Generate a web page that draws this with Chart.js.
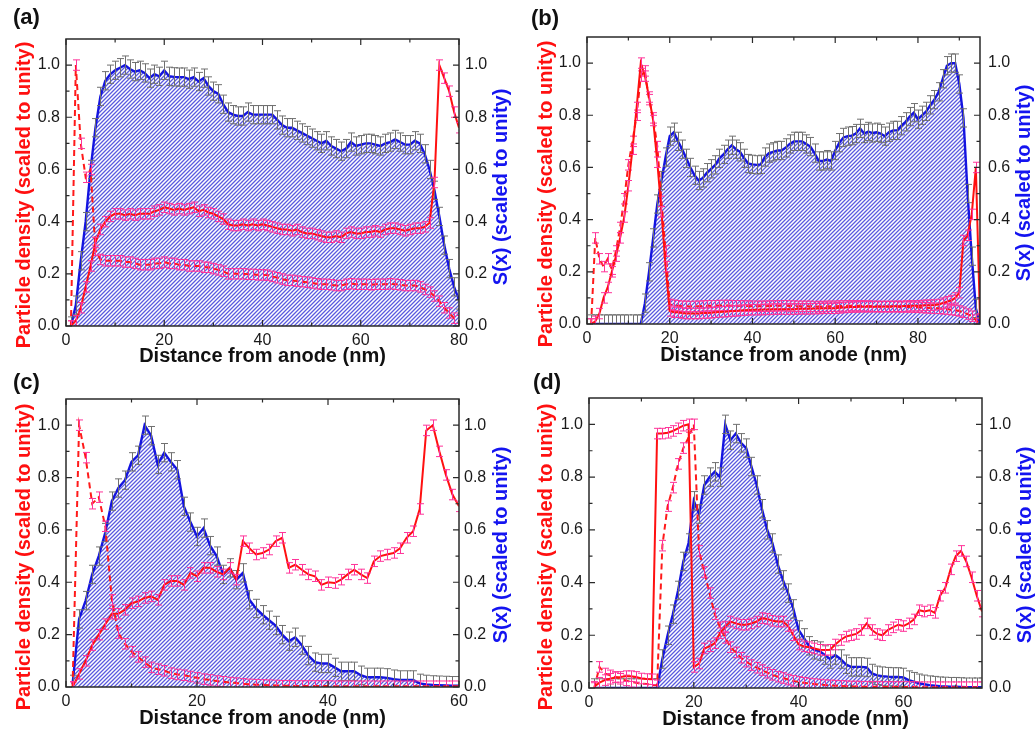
<!DOCTYPE html>
<html>
<head>
<meta charset="utf-8">
<script src="https://cdn.jsdelivr.net/npm/chart.js@4.4.1/dist/chart.umd.min.js"></script>
<style>
  body { margin: 0; background: #fff; width: 1035px; height: 731px; position: relative; overflow: hidden; }
  canvas { position: absolute; }
  .tag { position: absolute; font: bold 22px Arial, "Liberation Sans", sans-serif; line-height: 22px; color: #111; }
</style>
</head>
<body>
<canvas id="ca"></canvas>
<canvas id="cb"></canvas>
<canvas id="cc"></canvas>
<canvas id="cd"></canvas>
<div class="tag" style="left:13px;top:6px">(a)</div>
<div class="tag" style="left:531px;top:7px">(b)</div>
<div class="tag" style="left:13px;top:371px">(c)</div>
<div class="tag" style="left:533px;top:371px">(d)</div>
<script>
// tick labels
const yTicks = [0, 0.2, 0.4, 0.6, 0.8, 1.0];
const xTicksA = [0, 20, 40, 60, 80];
const xTicksB = [0, 20, 40, 60, 80];
const xTicksC = [0, 20, 40, 60];
const xTicksD = [0, 20, 40, 60];

// error bar half widths
const sErr = 0.035;
const nErr = 0.02;

// (a) one value per nm, starting at 1 nm
const sA = [0.0, 0.08, 0.25, 0.4, 0.6, 0.76, 0.88, 0.94, 0.965, 0.98,
  0.99, 1.0, 0.985, 0.975, 0.98, 0.97, 0.95, 0.965, 0.957, 0.98,
  0.957, 0.955, 0.954, 0.954, 0.946, 0.954, 0.937, 0.95, 0.92, 0.9,
  0.89, 0.85, 0.82, 0.81, 0.805, 0.805, 0.82, 0.81, 0.81, 0.81,
  0.81, 0.81, 0.79, 0.77, 0.76, 0.76, 0.75, 0.74, 0.73, 0.72,
  0.71, 0.7, 0.71, 0.69, 0.68, 0.67, 0.68, 0.705, 0.69, 0.695,
  0.7, 0.7, 0.695, 0.69, 0.7, 0.705, 0.715, 0.705, 0.695, 0.695,
  0.71, 0.7, 0.66, 0.6, 0.52, 0.42, 0.31, 0.22, 0.15, 0.1];
const nA = [0.0, 0.02, 0.07, 0.15, 0.23, 0.32, 0.37, 0.4, 0.42, 0.43,
  0.43, 0.425, 0.43, 0.425, 0.43, 0.43, 0.43, 0.44, 0.445, 0.455,
  0.45, 0.445, 0.45, 0.445, 0.45, 0.455, 0.44, 0.445, 0.435, 0.43,
  0.42, 0.41, 0.39, 0.385, 0.385, 0.39, 0.385, 0.39, 0.385, 0.39,
  0.385, 0.38, 0.375, 0.37, 0.37, 0.365, 0.37, 0.36, 0.355, 0.355,
  0.35, 0.345, 0.34, 0.34, 0.345, 0.34, 0.355, 0.36, 0.355, 0.355,
  0.36, 0.36, 0.365, 0.36, 0.37, 0.375, 0.375, 0.37, 0.365, 0.37,
  0.375, 0.375, 0.38, 0.395, 0.55, 1.0, 0.95, 0.9, 0.82, 0.76];
const dA = [0.0, 1.0, 0.7, 0.57, 0.6, 0.29, 0.255, 0.25, 0.25, 0.25,
  0.25, 0.245, 0.245, 0.24, 0.235, 0.235, 0.235, 0.24, 0.24, 0.245,
  0.24, 0.24, 0.235, 0.235, 0.23, 0.23, 0.23, 0.225, 0.225, 0.22,
  0.215, 0.21, 0.2, 0.2, 0.2, 0.2, 0.198, 0.198, 0.196, 0.196,
  0.195, 0.19, 0.185, 0.18, 0.175, 0.175, 0.172, 0.17, 0.168, 0.165,
  0.162, 0.16, 0.16, 0.158, 0.155, 0.155, 0.16, 0.162, 0.16, 0.16,
  0.16, 0.158, 0.16, 0.16, 0.16, 0.162, 0.16, 0.158, 0.155, 0.155,
  0.155, 0.15, 0.14, 0.13, 0.115, 0.095, 0.07, 0.05, 0.03, 0.02];

// (b)
const sB = [0, 0, 0, 0, 0, 0, 0, 0, 0, 0,
  0, 0, 0, 0.08, 0.2, 0.33, 0.46, 0.55, 0.64, 0.72,
  0.735, 0.7, 0.67, 0.635, 0.6, 0.57, 0.55, 0.56, 0.58, 0.595,
  0.61, 0.635, 0.65, 0.67, 0.685, 0.67, 0.66, 0.635, 0.615, 0.612,
  0.61, 0.612, 0.64, 0.655, 0.66, 0.665, 0.665, 0.675, 0.69, 0.7,
  0.7, 0.7, 0.69, 0.68, 0.655, 0.625, 0.625, 0.63, 0.625, 0.665,
  0.695, 0.715, 0.72, 0.722, 0.73, 0.75, 0.73, 0.738, 0.732, 0.735,
  0.73, 0.72, 0.735, 0.742, 0.742, 0.76, 0.775, 0.795, 0.81, 0.785,
  0.8, 0.815, 0.84, 0.86, 0.89, 0.94, 0.99, 1.0, 1.0, 0.92,
  0.79, 0.5, 0.26, 0.06, 0.0];
const nB = [0.0, 0.01, 0.04, 0.1, 0.14, 0.2, 0.26, 0.33, 0.41, 0.53,
  0.67, 0.83, 1.0, 0.95, 0.87, 0.78, 0.62, 0.43, 0.22, 0.05,
  0.045, 0.045, 0.042, 0.04, 0.04, 0.04, 0.04, 0.042, 0.042, 0.043,
  0.045, 0.046, 0.047, 0.048, 0.05, 0.05, 0.052, 0.053, 0.054, 0.055,
  0.055, 0.055, 0.056, 0.056, 0.057, 0.057, 0.057, 0.057, 0.057, 0.057,
  0.058, 0.058, 0.058, 0.058, 0.059, 0.059, 0.06, 0.06, 0.06, 0.06,
  0.062, 0.063, 0.064, 0.065, 0.065, 0.066, 0.066, 0.066, 0.066, 0.066,
  0.066, 0.067, 0.067, 0.068, 0.068, 0.068, 0.069, 0.07, 0.07, 0.07,
  0.071, 0.072, 0.072, 0.073, 0.075, 0.08, 0.085, 0.09, 0.1, 0.12,
  0.32, 0.34, 0.42, 0.6, 0.02];
const dB = [0.0, 0.33, 0.25, 0.22, 0.25, 0.21, 0.28, 0.37, 0.48, 0.61,
  0.7, 0.8, 0.95, 0.97, 0.86, 0.79, 0.68, 0.47, 0.28, 0.075,
  0.072, 0.07, 0.068, 0.068, 0.067, 0.068, 0.068, 0.069, 0.07, 0.07,
  0.07, 0.071, 0.071, 0.071, 0.07, 0.07, 0.07, 0.069, 0.069, 0.068,
  0.068, 0.068, 0.068, 0.069, 0.069, 0.07, 0.07, 0.07, 0.069, 0.069,
  0.068, 0.068, 0.068, 0.068, 0.067, 0.067, 0.067, 0.068, 0.068, 0.068,
  0.069, 0.069, 0.07, 0.07, 0.07, 0.07, 0.069, 0.069, 0.068, 0.068,
  0.067, 0.067, 0.066, 0.066, 0.066, 0.065, 0.065, 0.065, 0.064, 0.064,
  0.063, 0.062, 0.061, 0.06, 0.06, 0.058, 0.057, 0.055, 0.053, 0.05,
  0.045, 0.038, 0.03, 0.015, 0.0];

// (c)
const sC = [0.01, 0.26, 0.33, 0.43, 0.5, 0.59, 0.71, 0.76, 0.79, 0.86,
  0.885, 1.0, 0.96, 0.85, 0.895, 0.86, 0.83, 0.69, 0.63, 0.575,
  0.607, 0.54, 0.5, 0.43, 0.455, 0.41, 0.436, 0.333, 0.3, 0.276,
  0.255, 0.235, 0.2, 0.175, 0.19, 0.16, 0.12, 0.095, 0.09, 0.09,
  0.075, 0.06, 0.06, 0.06, 0.045, 0.037, 0.037, 0.037, 0.035, 0.03,
  0.027, 0.027, 0.027, 0.014, 0.01, 0.008, 0.007, 0.006, 0.005, 0.005];
const nC = [0.0, 0.05, 0.1, 0.16, 0.2, 0.24, 0.28, 0.28, 0.295, 0.32,
  0.327, 0.34, 0.346, 0.333, 0.39, 0.405, 0.405, 0.39, 0.436, 0.423,
  0.455, 0.455, 0.44, 0.43, 0.455, 0.41, 0.557, 0.53, 0.506, 0.512,
  0.525, 0.557, 0.57, 0.455, 0.467, 0.448, 0.43, 0.423, 0.39, 0.4,
  0.397, 0.41, 0.43, 0.448, 0.43, 0.416, 0.48, 0.5, 0.506, 0.512,
  0.53, 0.57, 0.595, 0.68, 0.98, 1.0, 0.9, 0.81, 0.735, 0.69];
const dC = [0.0, 1.0, 0.876, 0.7, 0.725, 0.614, 0.333, 0.206, 0.165, 0.135,
  0.115, 0.095, 0.075, 0.068, 0.062, 0.053, 0.048, 0.045, 0.04, 0.035,
  0.03, 0.027, 0.023, 0.02, 0.017, 0.015, 0.012, 0.01, 0.009, 0.008,
  0.007, 0.006, 0.005, 0.005, 0.004, 0.004, 0.004, 0.004, 0.004, 0.004,
  0.003, 0.003, 0.003, 0.003, 0.003, 0.003, 0.003, 0.003, 0.003, 0.003,
  0.003, 0.003, 0.003, 0.003, 0.003, 0.003, 0.003, 0.003, 0.003, 0.003];

// (d)
const sD = [0, 0, 0, 0, 0, 0, 0, 0, 0, 0,
  0, 0, 0, 0.11, 0.2, 0.28, 0.37, 0.48, 0.55, 0.71,
  0.66, 0.77, 0.8, 0.82, 0.8, 1.0, 0.94, 0.965, 0.93, 0.91,
  0.84, 0.77, 0.68, 0.6, 0.55, 0.47, 0.41, 0.36, 0.3, 0.22,
  0.19, 0.16, 0.145, 0.14, 0.125, 0.11, 0.125, 0.11, 0.09, 0.08,
  0.08, 0.08, 0.078, 0.055, 0.048, 0.045, 0.043, 0.042, 0.042, 0.04,
  0.03, 0.024, 0.018, 0.014, 0.011, 0.009, 0.007, 0.006, 0.005, 0.005,
  0.004, 0.003, 0.003, 0.003, 0.003];
const nD = [0.005, 0.02, 0.03, 0.035, 0.04, 0.042, 0.045, 0.045, 0.042, 0.036,
  0.034, 0.033, 0.965, 0.965, 0.968, 0.975, 0.985, 0.995, 1.0, 0.08,
  0.093, 0.15, 0.158, 0.17, 0.208, 0.233, 0.252, 0.245, 0.24, 0.24,
  0.245, 0.252, 0.265, 0.262, 0.255, 0.252, 0.252, 0.235, 0.2, 0.165,
  0.158, 0.155, 0.15, 0.145, 0.144, 0.145, 0.165, 0.182, 0.195, 0.2,
  0.205, 0.22, 0.245, 0.22, 0.205, 0.2, 0.22, 0.23, 0.24, 0.235,
  0.245, 0.26, 0.295, 0.29, 0.295, 0.285, 0.35, 0.38, 0.45, 0.5,
  0.52, 0.48, 0.42, 0.35, 0.29];
const dD = [0.0, 0.08, 0.055, 0.048, 0.042, 0.035, 0.029, 0.023, 0.02, 0.017,
  0.015, 0.012, 0.01, 0.54, 0.69, 0.76, 0.85, 0.91, 0.95, 1.0,
  0.52, 0.44, 0.36, 0.28, 0.23, 0.19, 0.155, 0.135, 0.115, 0.1,
  0.087, 0.077, 0.068, 0.058, 0.05, 0.043, 0.038, 0.032, 0.027, 0.023,
  0.02, 0.017, 0.015, 0.013, 0.011, 0.01, 0.009, 0.008, 0.007, 0.006,
  0.006, 0.005, 0.005, 0.005, 0.005, 0.004, 0.004, 0.004, 0.004, 0.004,
  0.004, 0.004, 0.003, 0.003, 0.003, 0.003, 0.003, 0.003, 0.003, 0.003,
  0.003, 0.003, 0.003, 0.003, 0.003];

const FONT = 'Arial, "Liberation Sans", sans-serif';
const pts = ys => ys.map((y, i) => ({ x: i + 1, y }));

const panels = [
  { id: 'ca', xMax: 80, xTicks: xTicksA, s: sA, n: nA, d: dA,
    box: { left: 0, top: 0, w: 517, h: 372 }, area: { L: 66, T: 39, R: 459, B: 326 },
    titlePad: 4, rPad: 6, lTitle: [24, 195], rTitle: [501, 187] },
  { id: 'cb', xMax: 95, xTicks: xTicksB, s: sB, n: nB, d: dB,
    box: { left: 517, top: 0, w: 518, h: 372 }, area: { L: 587, T: 37, R: 980, B: 324 },
    titlePad: 5, rPad: 8, lTitle: [546, 194], rTitle: [1024, 183] },
  { id: 'cc', xMax: 60, xTicks: xTicksC, s: sC, n: nC, d: dC,
    box: { left: 0, top: 365, w: 517, h: 366 }, area: { L: 66, T: 399, R: 459, B: 687 },
    titlePad: 1, rPad: 5, lTitle: [24, 557], rTitle: [501, 545] },
  { id: 'cd', xMax: 75, xTicks: xTicksD, s: sD, n: nD, d: dD,
    box: { left: 517, top: 365, w: 518, h: 366 }, area: { L: 589, T: 398, R: 982, B: 688 },
    titlePad: 0, rPad: 7, lTitle: [546, 557], rTitle: [1025, 545] }
];

// soft diagonal hatch: one blue stripe every 4 px, shaded edges
function hatch(ctx) {
  const t = document.createElement('canvas');
  t.width = 4; t.height = 4;
  const g = t.getContext('2d');
  const shade = ['#ffffff', '#ffffff', '#b8b8f0', '#5a5ae0'];
  for (let y = 0; y < 4; y++) {
    for (let x = 0; x < 4; x++) {
      const k = (x + y) % 4;
      g.fillStyle = k === 3 ? shade[3] : (k === 2 || k === 0) ? shade[2] : shade[0];
      g.fillRect(x, y, 1, 1);
    }
  }
  return ctx.createPattern(t, 'repeat');
}

const errorBars = {
  id: 'errorBars',
  afterDatasetDraw(chart, args) {
    const ds = chart.data.datasets[args.index];
    if (ds.err === undefined) return;
    const { ctx, chartArea: a } = chart;
    const ys = chart.scales[ds.yAxisID];
    const w = ds.cap / 2;
    ctx.save();
    ctx.beginPath();
    ctx.rect(a.left, a.top, a.right - a.left, a.bottom - a.top);
    ctx.clip();
    ctx.strokeStyle = ds.errColor;
    ctx.lineWidth = 1;
    ctx.beginPath();
    args.meta.data.forEach((el, i) => {
      const v = ds.data[i].y;
      const x = Math.round(el.x) + 0.5;
      const t = ys.getPixelForValue(v + ds.err);
      const b = ys.getPixelForValue(v - ds.err);
      ctx.moveTo(x, t); ctx.lineTo(x, b);
      ctx.moveTo(x - w, t); ctx.lineTo(x + w, t);
      ctx.moveTo(x - w, b); ctx.lineTo(x + w, b);
    });
    ctx.stroke();
    ctx.restore();
  }
};

const frame = {
  id: 'frame',
  afterDatasetsDraw(chart, args, o) {
    const { ctx, chartArea: a, scales } = chart;
    ctx.save();
    ctx.strokeStyle = '#2a2a2a';
    ctx.lineWidth = 1.5;
    ctx.strokeRect(a.left, a.top, a.right - a.left, a.bottom - a.top);
    ctx.lineWidth = 1.2;
    ctx.beginPath();
    const xt = o.xTicks, step = xt[1] - xt[0];
    const xMark = (v, len) => {
      const px = scales.x.getPixelForValue(v);
      ctx.moveTo(px, a.bottom); ctx.lineTo(px, a.bottom - len);
      ctx.moveTo(px, a.top); ctx.lineTo(px, a.top + len);
    };
    xt.forEach(v => xMark(v, 6));
    for (let v = step / 2; v < o.xMax; v += step) xMark(v, 3.5);
    const yMark = (v, len) => {
      const py = scales.y.getPixelForValue(v);
      ctx.moveTo(a.left, py); ctx.lineTo(a.left + len, py);
      ctx.moveTo(a.right, py); ctx.lineTo(a.right - len, py);
    };
    yTicks.forEach(v => yMark(v, 6));
    for (let v = 0.1; v < 1.09; v += 0.2) yMark(v, 3.5);
    ctx.stroke();

    ctx.font = 'bold 20px ' + FONT;
    ctx.textAlign = 'center';
    ctx.textBaseline = 'middle';
    const side = (pos, text, color) => {
      ctx.save();
      ctx.translate(pos[0] - o.box.left, pos[1] - o.box.top);
      ctx.rotate(-Math.PI / 2);
      ctx.fillStyle = color;
      ctx.fillText(text, 0, 0);
      ctx.restore();
    };
    side(o.lTitle, 'Particle density (scaled to unity)', '#ff1010');
    side(o.rTitle, 'S(x) (scaled to unity)', '#1414f0');
    ctx.restore();
  }
};

const tickFont = { family: FONT, size: 16 };

panels.forEach(p => {
  const cv = document.getElementById(p.id);
  cv.width = p.box.w;
  cv.height = p.box.h;
  cv.style.left = p.box.left + 'px';
  cv.style.top = p.box.top + 'px';
  const pattern = hatch(cv.getContext('2d'));

  new Chart(cv, {
    type: 'line',
    data: {
      datasets: [
        { label: 'S(x)', data: pts(p.s), yAxisID: 'y2', order: 3,
          borderColor: '#1414e0', borderWidth: 2.4, backgroundColor: pattern, fill: 'origin',
          pointRadius: 0, tension: 0, err: sErr, errColor: '#707070', cap: 7 },
        { label: 'dashed', data: pts(p.d), yAxisID: 'y', order: 2,
          borderColor: '#ff1a1a', borderWidth: 2, borderDash: [6, 4], fill: false,
          pointRadius: 0, tension: 0, err: nErr, errColor: '#ff3399', cap: 7 },
        { label: 'solid', data: pts(p.n), yAxisID: 'y', order: 1,
          borderColor: '#ff1010', borderWidth: 2, fill: false,
          pointRadius: 0, tension: 0, err: nErr, errColor: '#ff3399', cap: 7 }
      ]
    },
    options: {
      responsive: false,
      animation: false,
      devicePixelRatio: 1,
      layout: { padding: { top: p.area.T - p.box.top, left: 0, right: 0, bottom: 0 } },
      plugins: { legend: { display: false }, tooltip: { enabled: false }, frame: p },
      scales: {
        x: {
          type: 'linear', min: 0, max: p.xMax,
          afterBuildTicks: s => { s.ticks = p.xTicks.map(v => ({ value: v })); },
          afterFit: s => { s.height = p.box.top + p.box.h - p.area.B; },
          grid: { display: false, drawTicks: false }, border: { display: false },
          ticks: { autoSkip: false, maxRotation: 0, padding: 5, color: '#1a1a1a', font: tickFont },
          title: { display: true, text: 'Distance from anode (nm)', color: '#111',
            font: { family: FONT, size: 20, weight: 'bold', lineHeight: 1.2 },
            padding: { top: 0, bottom: p.titlePad } }
        },
        y: {
          position: 'left', min: 0, max: 1.1,
          afterBuildTicks: s => { s.ticks = yTicks.map(v => ({ value: v })); },
          afterFit: s => { s.width = p.area.L - p.box.left; },
          grid: { display: false, drawTicks: false }, border: { display: false },
          ticks: { padding: 6, color: '#1a1a1a', font: tickFont, callback: v => Number(v).toFixed(1) }
        },
        y2: {
          position: 'right', min: 0, max: 1.1,
          afterBuildTicks: s => { s.ticks = yTicks.map(v => ({ value: v })); },
          afterFit: s => { s.width = p.box.left + p.box.w - p.area.R; },
          grid: { display: false, drawTicks: false }, border: { display: false },
          ticks: { padding: p.rPad, color: '#1a1a1a', font: tickFont, callback: v => Number(v).toFixed(1) }
        }
      }
    },
    plugins: [errorBars, frame]
  });
});
</script>
</body>
</html>
